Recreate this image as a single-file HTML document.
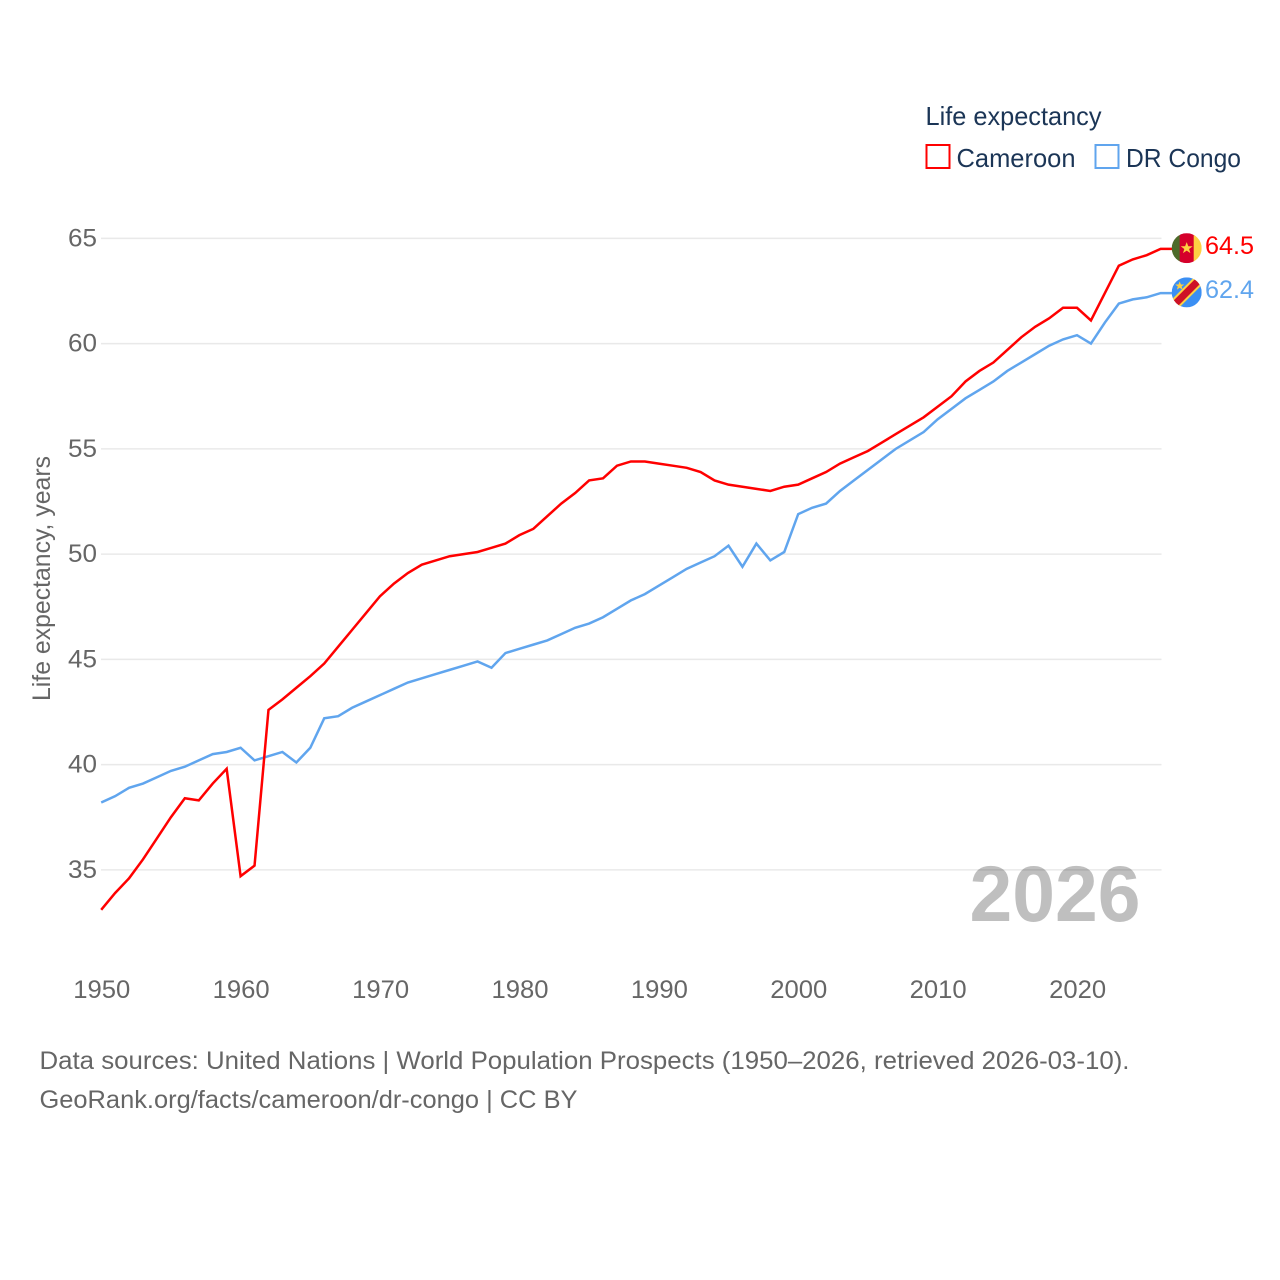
<!DOCTYPE html>
<html lang="en">
<head>
<meta charset="utf-8">
<title>Life expectancy: Cameroon vs DR Congo</title>
<style>
html,body{margin:0;padding:0;background:#fff;}
svg{display:block;font-family:"Liberation Sans",sans-serif;}
.tick{font-size:25px;fill:#666;}
.src{font-size:25px;fill:#666;}
.leg{font-size:26px;fill:#1b3556;}
</style>
</head>
<body>
<svg id="chart" xmlns="http://www.w3.org/2000/svg" width="1280" height="1280" viewBox="0 0 1280 1280">
  <defs>
    <clipPath id="clip-cm"><circle cx="0" cy="0" r="15"/></clipPath>
    <clipPath id="clip-cd"><circle cx="0" cy="0" r="15"/></clipPath>
  </defs>
  <rect x="0" y="0" width="1280" height="1280" fill="#fff"/>
  <g id="grid"></g>
  <text id="yearMark" x="1140.5" y="921" text-anchor="end" font-size="79" font-weight="bold" fill="#000" fill-opacity="0.25" textLength="171" lengthAdjust="spacingAndGlyphs"></text>
  <g id="yticks"></g>
  <g id="xticks"></g>
  <text class="tick" transform="translate(50,701) rotate(-90)" textLength="245" lengthAdjust="spacingAndGlyphs">Life expectancy, years</text>
  <g id="lines"></g>

  <g id="flag-cm">
    <g clip-path="url(#clip-cm)">
      <rect x="-15" y="-15" width="10" height="30" fill="#4d6b2a"/>
      <rect x="-7" y="-15" width="15" height="30" fill="#d5002b"/>
      <rect x="7" y="-15" width="8" height="30" fill="#fdd043"/>
      <polygon points="0,-6 1.6,-1.9 6,-1.9 2.4,0.8 3.7,5 0,2.5 -3.7,5 -2.4,0.8 -6,-1.9 -1.6,-1.9" fill="#fdd043"/>
    </g>
  </g>
  <g id="flag-cd">
    <g clip-path="url(#clip-cd)">
      <rect x="-15" y="-15" width="30" height="30" fill="#3b8ff3"/>
      <line x1="-17" y1="17" x2="17" y2="-17" stroke="#fdd043" stroke-width="11"/>
      <line x1="-17" y1="17" x2="17" y2="-17" stroke="#ce1126" stroke-width="7"/>
      <polygon points="-7,-11 -5.8,-7.9 -2.5,-7.9 -5.1,-5.9 -4.2,-2.8 -7,-4.6 -9.8,-2.8 -8.9,-5.9 -11.5,-7.9 -8.2,-7.9" fill="#fdd043"/>
    </g>
  </g>
  <g id="endLabels"></g>

  <g>
    <text class="leg" x="925.5" y="125" textLength="176" lengthAdjust="spacingAndGlyphs">Life expectancy</text>
    <g>
      <rect x="926.5" y="145" width="23" height="23" fill="none" stroke="#ff0000" stroke-width="2"/>
      <text class="leg" x="956.5" y="167" textLength="119" lengthAdjust="spacingAndGlyphs">Cameroon</text>
    </g>
    <g>
      <rect x="1095.5" y="145" width="23" height="23" fill="none" stroke="#60a5ee" stroke-width="2"/>
      <text class="leg" x="1126" y="167" textLength="115" lengthAdjust="spacingAndGlyphs">DR Congo</text>
    </g>
  </g>

  <text class="src" x="39.5" y="1069" textLength="1090" lengthAdjust="spacingAndGlyphs">Data sources: United Nations | World Population Prospects (1950–2026, retrieved 2026-03-10).</text>
  <text class="src" x="39.5" y="1108" textLength="538" lengthAdjust="spacingAndGlyphs">GeoRank.org/facts/cameroon/dr-congo | CC BY</text>
</svg>
<script>
const years = [1950,1951,1952,1953,1954,1955,1956,1957,1958,1959,1960,1961,1962,1963,1964,1965,1966,1967,1968,1969,1970,1971,1972,1973,1974,1975,1976,1977,1978,1979,1980,1981,1982,1983,1984,1985,1986,1987,1988,1989,1990,1991,1992,1993,1994,1995,1996,1997,1998,1999,2000,2001,2002,2003,2004,2005,2006,2007,2008,2009,2010,2011,2012,2013,2014,2015,2016,2017,2018,2019,2020,2021,2022,2023,2024,2025,2026];
const cameroon = [33.1,33.9,34.6,35.5,36.5,37.5,38.4,38.3,39.1,39.8,34.7,35.2,42.6,43.1,43.65,44.2,44.8,45.6,46.4,47.2,48.0,48.6,49.1,49.5,49.7,49.9,50.0,50.1,50.3,50.5,50.9,51.2,51.8,52.4,52.9,53.5,53.6,54.2,54.4,54.4,54.3,54.2,54.1,53.9,53.5,53.3,53.2,53.1,53.0,53.2,53.3,53.6,53.9,54.3,54.6,54.9,55.3,55.7,56.1,56.5,57.0,57.5,58.2,58.7,59.1,59.7,60.3,60.8,61.2,61.7,61.7,61.1,62.4,63.7,64.0,64.2,64.5];
const drCongo = [38.2,38.5,38.9,39.1,39.4,39.7,39.9,40.2,40.5,40.6,40.8,40.2,40.4,40.6,40.1,40.8,42.2,42.3,42.7,43.0,43.3,43.6,43.9,44.1,44.3,44.5,44.7,44.9,44.6,45.3,45.5,45.7,45.9,46.2,46.5,46.7,47.0,47.4,47.8,48.1,48.5,48.9,49.3,49.6,49.9,50.4,49.4,50.5,49.7,50.1,51.9,52.2,52.4,53.0,53.5,54.0,54.5,55.0,55.4,55.8,56.4,56.9,57.4,57.8,58.2,58.7,59.1,59.5,59.9,60.2,60.4,60.0,61.0,61.9,62.1,62.2,62.4];
const yTickValues = [35,40,45,50,55,60,65];
const xTickValues = [1950,1960,1970,1980,1990,2000,2010,2020];

const NS = 'http://www.w3.org/2000/svg';
function xScale(year){ return 101.2 + (year - 1950) * 13.94; }
function yScale(v){ return 764.6 - (v - 40) * 21.05; }
function make(tag, attrs, parent){
  const el = document.createElementNS(NS, tag);
  for (const k in attrs) el.setAttribute(k, attrs[k]);
  parent.appendChild(el);
  return el;
}

const grid = document.getElementById('grid');
const yticks = document.getElementById('yticks');
yTickValues.forEach(function(v){
  const ln = make('line', {x1:101, x2:1161.5, y1:yScale(v), y2:yScale(v), stroke:'#e9e9e9', 'stroke-width':1.5}, grid);
  
  
  const t = make('text', {x:97, y:yScale(v)+8, 'text-anchor':'end', class:'tick', textLength:29, lengthAdjust:'spacingAndGlyphs'}, yticks);
  t.textContent = String(v);
  
  
});

const xticks = document.getElementById('xticks');
xTickValues.forEach(function(y){
  const t = make('text', {x:xScale(y)+0.6, y:998, 'text-anchor':'middle', class:'tick', textLength:57, lengthAdjust:'spacingAndGlyphs'}, xticks);
  t.textContent = String(y);
  
  
});

document.getElementById('yearMark').textContent = String(years[years.length - 1]);

const lines = document.getElementById('lines');
function drawSeries(values, color, name){
  const pts = values.map(function(v, i){ return xScale(years[i]).toFixed(2) + ',' + yScale(v).toFixed(2); });
  const lastY = yScale(values[values.length - 1]);
  pts.push('1172,' + lastY.toFixed(2));
  const p = make('polyline', {points:pts.join(' '), fill:'none', stroke:color, 'stroke-width':2.5, 'stroke-linejoin':'miter'}, lines);
  
  
}
drawSeries(drCongo, '#60a5ee', 'series-line-dr-congo');
drawSeries(cameroon, '#ff0000', 'series-line-cameroon');

const endLabels = document.getElementById('endLabels');
function endLabel(values, color, name, flagId){
  const v = values[values.length - 1];
  const y = yScale(v);
  document.getElementById(flagId).setAttribute('transform', 'translate(1186.7,' + (y - 0.7).toFixed(2) + ')');
  const t = make('text', {x:1205, y:y+5, 'font-size':25, fill:color, textLength:49, lengthAdjust:'spacingAndGlyphs'}, endLabels);
  t.textContent = v.toFixed(1);
  
  
}
endLabel(cameroon, '#ff0000', 'end-label-cameroon', 'flag-cm');
endLabel(drCongo, '#60a5ee', 'end-label-dr-congo', 'flag-cd');
</script>
</body>
</html>
